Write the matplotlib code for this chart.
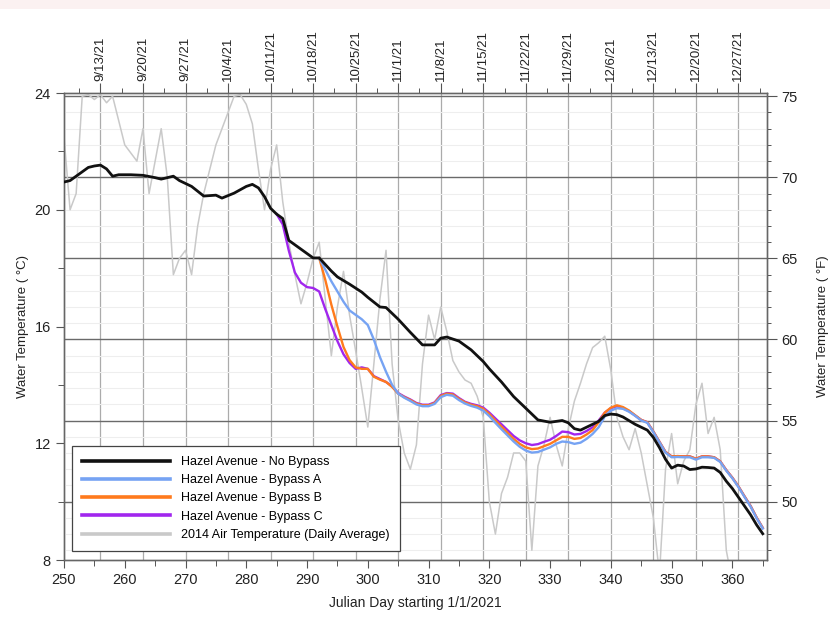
import matplotlib
matplotlib.use("Agg")
import matplotlib.pyplot as plt
from matplotlib.ticker import MultipleLocator, FixedLocator
from matplotlib.patches import Rectangle

plt.rcParams['font.family'] = ['Liberation Sans', 'DejaVu Sans']

# ---------------- data ----------------
black_days = [250, 251, 252, 253, 254, 255, 256, 257, 258, 259, 261, 263, 265, 266, 268, 269,
              271, 273, 275, 276, 278, 280, 281, 282, 283, 284, 285, 286, 287, 289, 291, 292,
              294, 295, 297, 299, 300, 302, 303, 305, 307, 309, 311, 312, 313, 315, 317, 319,
              320, 322, 324, 326, 327, 328, 330, 332, 333, 334, 335, 336, 338, 339, 340, 341,
              342, 344, 346, 347, 348, 349, 350, 351, 352, 353, 354, 355, 356, 357, 358, 359,
              360, 361, 362, 363, 364, 365]
black_vals = [20.95, 21.0, 21.15, 21.3, 21.45, 21.5, 21.53, 21.4, 21.15, 21.2, 21.2, 21.18, 21.1, 21.05, 21.15, 21.0,
              20.8, 20.47, 20.5, 20.4, 20.57, 20.8, 20.87, 20.75, 20.45, 20.05, 19.85, 19.7, 18.95, 18.65, 18.35, 18.35,
              17.9, 17.7, 17.45, 17.18, 17.0, 16.67, 16.65, 16.25, 15.8, 15.37, 15.37, 15.6, 15.64, 15.5, 15.2, 14.8,
              14.55, 14.1, 13.6, 13.2, 13.0, 12.8, 12.72, 12.78, 12.7, 12.5, 12.45, 12.55, 12.75, 12.95, 13.0, 12.98,
              12.9, 12.65, 12.45, 12.2, 11.85, 11.45, 11.15, 11.25, 11.22, 11.1, 11.12, 11.18, 11.17, 11.15, 11.0, 10.7,
              10.45, 10.15, 9.85, 9.55, 9.2, 8.9]

purple_days = list(range(285, 366))
purple_vals = [19.85, 19.5, 18.6, 17.85, 17.5, 17.35, 17.32, 17.2, 16.6, 16.05,
               15.5, 15.05, 14.75, 14.55, 14.6, 14.55, 14.3, 14.2, 14.1, 13.95,
               13.72, 13.6, 13.5, 13.38, 13.32, 13.32, 13.4, 13.65, 13.72, 13.7,
               13.55, 13.42, 13.35, 13.3, 13.22, 13.05, 12.85, 12.65, 12.45, 12.25,
               12.1, 12.0, 11.94, 11.97, 12.05, 12.12, 12.25, 12.4, 12.38, 12.3,
               12.32, 12.42, 12.55, 12.78, 13.05, 13.2, 13.27, 13.2, 13.1, 12.95,
               12.8, 12.72, 12.4, 12.05, 11.7, 11.55, 11.56, 11.55, 11.55, 11.47,
               11.55, 11.55, 11.52, 11.38, 11.08, 10.82, 10.52, 10.18, 9.85, 9.45,
               9.1]

orange_days = list(range(292, 366))
orange_vals = [18.35, 17.6, 16.75, 16.0, 15.3, 14.85, 14.6, 14.55, 14.55, 14.28,
               14.18, 14.1, 13.93, 13.7, 13.58, 13.48, 13.36, 13.3, 13.3, 13.38,
               13.62, 13.7, 13.67, 13.52, 13.4, 13.32, 13.27, 13.18, 13.0, 12.78,
               12.57, 12.36, 12.15, 11.98, 11.86, 11.8, 11.82, 11.9, 11.98, 12.1,
               12.22, 12.22, 12.15, 12.18, 12.3, 12.45, 12.72, 13.05, 13.22, 13.3,
               13.24, 13.12, 12.96, 12.8, 12.72, 12.4, 12.05, 11.7, 11.55, 11.56,
               11.55, 11.55, 11.47, 11.55, 11.55, 11.52, 11.38, 11.08, 10.82, 10.52,
               10.18, 9.85, 9.45, 9.1]

blue_days = list(range(292, 366))
blue_vals = [18.35, 17.95, 17.55, 17.2, 16.85, 16.55, 16.4, 16.25, 16.05, 15.55,
             14.95, 14.45, 14.0, 13.7, 13.56, 13.45, 13.33, 13.27, 13.27, 13.35,
             13.58, 13.66, 13.63, 13.48, 13.36, 13.28, 13.22, 13.12, 12.93, 12.7,
             12.48, 12.27, 12.06, 11.88, 11.75, 11.68, 11.7, 11.78, 11.86, 11.98,
             12.06, 12.04, 11.98, 12.02, 12.15, 12.32, 12.55, 12.92, 13.12, 13.2,
             13.18, 13.08, 12.94, 12.78, 12.7, 12.38, 12.03, 11.68, 11.52, 11.53,
             11.52, 11.52, 11.44, 11.52, 11.52, 11.5, 11.36, 11.06, 10.8, 10.5,
             10.16, 9.83, 9.43, 9.08]

air_days = list(range(250, 366))
air_vals_F = [72.5, 68.0, 69.0, 75.0, 75.1, 74.8, 75.1, 74.6, 75.0, 73.5,
              72.0, 71.5, 71.0, 73.0, 69.0, 71.0, 73.0, 70.0, 64.0, 65.0,
              65.5, 64.0, 67.0, 69.0, 70.5, 72.0, 73.0, 74.0, 75.0, 75.1,
              74.5, 73.3, 70.5, 68.0, 70.5, 72.0, 68.5, 66.0, 64.0, 62.2,
              63.5, 65.0, 66.0, 62.5, 59.0, 62.0, 64.2, 61.5, 59.3, 57.0,
              54.6, 58.5, 62.5, 65.5, 58.5, 55.0, 53.0, 52.0, 53.5, 58.5,
              61.5, 60.0, 62.0, 60.5, 58.7, 58.0, 57.5, 57.3, 56.5, 55.2,
              50.0, 48.0, 50.5, 51.5, 53.0, 53.0, 52.5, 47.0, 52.2, 53.5,
              55.2, 53.5, 52.2, 54.5, 56.2, 57.3, 58.5, 59.5, 59.8, 60.2,
              58.1, 55.2, 54.0, 53.2, 54.5, 53.0, 51.0, 49.0, 45.5, 52.0,
              54.2, 51.1, 52.5, 53.2, 56.0, 57.3, 54.2, 55.2, 53.2, 47.0,
              45.0, 44.0, 45.0, 44.5, 45.5, 45.0]

date_days = [256, 263, 270, 277, 284, 291, 298, 305, 312, 319, 326, 333, 340, 347, 354, 361]
date_labels = ['9/13/21', '9/20/21', '9/27/21', '10/4/21', '10/11/21', '10/18/21', '10/25/21',
               '11/1/21', '11/8/21', '11/15/21', '11/22/21', '11/29/21', '12/6/21', '12/13/21',
               '12/20/21', '12/27/21']

labels = ['Hazel Avenue - No Bypass', 'Hazel Avenue - Bypass A', 'Hazel Avenue - Bypass B',
          'Hazel Avenue - Bypass C', '2014 Air Temperature (Daily Average)']

# ---------------- figure ----------------
fig = plt.figure(figsize=(8.3, 6.23), dpi=100)
fig.patches.append(Rectangle((0, 0.985), 1, 0.015, transform=fig.transFigure,
                             facecolor='#fbf1f1', edgecolor='none', zorder=0))

ax = fig.add_axes([0.0771, 0.1011, 0.847, 0.7496])
ax2 = ax.twinx()
ax3 = ax2.twiny()

ax3.set_zorder(0)
ax2.set_zorder(1)
ax.set_zorder(2)
for a in (ax, ax2, ax3):
    a.patch.set_visible(False)

XMIN, XMAX = 250, 365.7
ax.set_xlim(XMIN, XMAX)
ax3.set_xlim(XMIN, XMAX)
ax.set_ylim(8, 24)
ax2.set_ylim(8 * 1.8 + 32, 24 * 1.8 + 32)

# grid: vertical weekly lines (ax3), horizontal F lines (ax2)
ax3.xaxis.set_major_locator(FixedLocator(date_days))
ax3.xaxis.set_minor_locator(FixedLocator([d + 3.5 for d in [249] + date_days if d + 3.5 < XMAX]))
ax3.set_xticklabels(date_labels, rotation=90, fontsize=9.5)
ax3.grid(True, which='major', axis='x', color='#ababab', linewidth=0.9)
ax3.tick_params(axis='x', which='major', direction='out', length=7, width=0.8, colors='#555555',
                labelcolor='#222222', pad=2)
ax3.tick_params(axis='x', which='minor', direction='out', length=3.5, width=0.7, colors='#555555')

ax2.yaxis.set_major_locator(MultipleLocator(5))
ax2.yaxis.set_minor_locator(MultipleLocator(1))
ax2.grid(True, which='major', axis='y', color='#6a6a6a', linewidth=1.0)
ax2.grid(True, which='minor', axis='y', color='#eeeeee', linewidth=0.8)
ax2.tick_params(axis='y', which='major', direction='out', length=7, width=0.8, labelsize=10.5,
                colors='#555555', labelcolor='#222222')
ax2.tick_params(axis='y', which='minor', direction='out', length=3, width=0.7, colors='#555555')
ax2.set_ylabel('Water Temperature ( °F)', fontsize=9.5, color='#222222', labelpad=14)

# air temperature on F axis
air_line, = ax2.plot(air_days, air_vals_F, color='#c9c9c9', linewidth=1.1, zorder=2)

# water temperatures on C axis
l_c, = ax.plot(purple_days, purple_vals, color='#a126ee', linewidth=1.7, zorder=3)
l_b, = ax.plot(orange_days, orange_vals, color='#ff7a1c', linewidth=1.7, zorder=4)
l_a, = ax.plot(blue_days, blue_vals, color='#76a3f3', linewidth=1.7, zorder=5)
l_k, = ax.plot(black_days, black_vals, color='#111111', linewidth=2.0, zorder=6)

ax.xaxis.set_major_locator(MultipleLocator(10))
ax.xaxis.set_minor_locator(MultipleLocator(5))
ax.yaxis.set_major_locator(MultipleLocator(4))
ax.yaxis.set_minor_locator(MultipleLocator(2))
ax.tick_params(axis='both', which='major', direction='out', length=6, width=0.8, labelsize=10.5,
               colors='#555555', labelcolor='#222222')
ax.tick_params(axis='both', which='minor', direction='out', length=4, width=0.7, colors='#555555')
ax.set_xlabel('Julian Day starting 1/1/2021', fontsize=10, color='#222222', labelpad=6)
ax.set_ylabel('Water Temperature ( °C)', fontsize=9.5, color='#222222', labelpad=4)

for a in (ax, ax2, ax3):
    for s in a.spines.values():
        s.set_color('#666666')
        s.set_linewidth(0.9)

leg = ax.legend([l_k, l_a, l_b, l_c, air_line], labels, loc='lower left',
                bbox_to_anchor=(0.003, 0.006), fontsize=9, handlelength=7.0,
                handletextpad=0.9, labelspacing=0.5, borderpad=0.8,
                frameon=True, fancybox=False, edgecolor='#444444', framealpha=1)
leg.get_frame().set_linewidth(0.9)
for h in leg.get_lines():
    h.set_linewidth(2.6)

fig.savefig('out.png', dpi=100)
